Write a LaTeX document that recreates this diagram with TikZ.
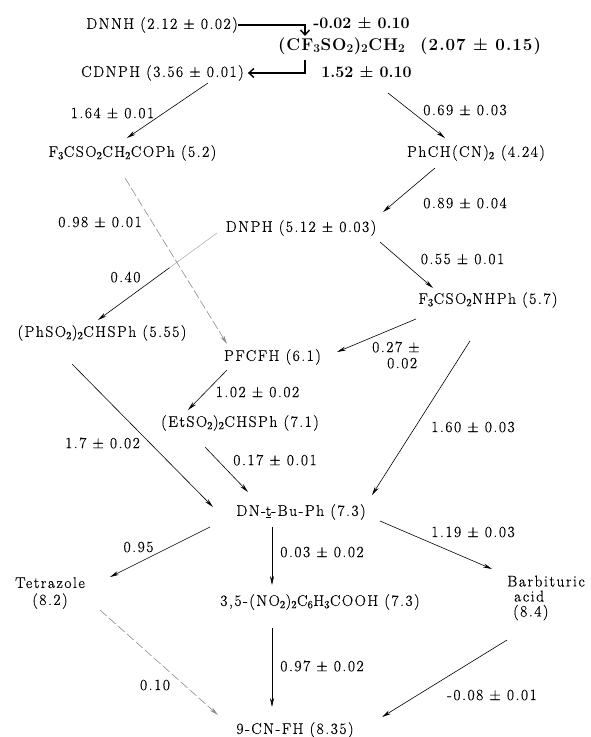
\documentclass[tikz,border=0pt]{standalone}
\usepackage{fontspec}
\setmainfont{Latin Modern Roman}
\newfontfamily\spaced{Latin Modern Roman}[LetterSpace=10, FakeBold=0.6]
\newfontfamily\bspaced{Latin Modern Roman}[LetterSpace=6]
\usetikzlibrary{arrows.meta,calc}
\begin{document}
\begin{tikzpicture}[x=1pt,y=-1pt,
  every node/.style={inner sep=0pt, font=\spaced\fontsize{15.5}{17}\selectfont},
  bld/.style={font=\normalfont\fontsize{16}{18}\selectfont\bfseries},
  bigbld/.style={font=\bspaced\fontsize{17}{19}\selectfont\bfseries},
  arr/.style={-{Stealth[length=9pt,width=4pt]}, line width=0.6pt},
  faint/.style={arr, draw=black!45, dash pattern=on 9pt off 3pt},
  heavy/.style={-{Straight Barb[length=5pt,width=9pt]}, line width=1.4pt}]
\useasboundingbox (0,0) rectangle (590,737);
% nodes
\node (DNNH) at (162,25) {DNNH (2.12 ± 0.02)};
\node[bld] (B1) at (361.5,23) {-0.02 ± 0.10};
\node[bigbld] (CF) at (409.5,46) {(CF\textsubscript{3}SO\textsubscript{2})\textsubscript{2}CH\textsubscript{2}\ \ (2.07 ± 0.15)};
\node (CD) at (162.5,73) {CDNPH (3.56 ± 0.01)};
\node[bld] (B2) at (366.5,72) {1.52 ± 0.10};
\node (L164) at (112.5,113) {1.64 ± 0.01};
\node (L069) at (465,110) {0.69 ± 0.03};
\node (F3C) at (132.5,153) {F\textsubscript{3}CSO\textsubscript{2}CH\textsubscript{2}COPh (5.2)};
\node (PhCH) at (476,153) {PhCH(CN)\textsubscript{2} (4.24)};
\node (L089) at (465,203) {0.89 ± 0.04};
\node (DNPH) at (301,228) {DNPH (5.12 ± 0.03)};
\node (L098) at (100,222) {0.98 ± 0.01};
\node (L040) at (125.5,277) {0.40};
\node (L055) at (462.5,259) {0.55 ± 0.01};
\node (PhSO) at (102,333) {(PhSO\textsubscript{2})\textsubscript{2}CHSPh (5.55)};
\node (F3N) at (488,300) {F\textsubscript{3}CSO\textsubscript{2}NHPh (5.7)};
\node (PFCFH) at (272.5,357) {PFCFH (6.1)};
\node[align=left, anchor=west, font=\spaced\fontsize{15.5}{16}\selectfont] (L027) at (372,355) {0.27 ±\\\hspace*{15pt}0.02};
\node (L160) at (473,427) {1.60 ± 0.03};
\node (L102) at (257.5,392) {1.02 ± 0.02};
\node (L17) at (102.5,443) {1.7 ± 0.02};
\node (Et) at (240,423) {(EtSO\textsubscript{2})\textsubscript{2}CHSPh (7.1)};
\node (L017) at (275,460) {0.17 ± 0.01};
\node (DN) at (301,512) {DN-\underline{t}-Bu-Ph (7.3)};
\node (L095) at (138.5,547) {0.95};
\node (L003) at (322,552) {0.03 ± 0.02};
\node (L119) at (473,532) {1.19 ± 0.03};
\node[align=center, font=\spaced\fontsize{15.5}{17}\selectfont] (Tet) at (50,593) {Tetrazole\\(8.2)};
\node (NO2) at (320,602) {3,5-(NO\textsubscript{2})\textsubscript{2}C\textsubscript{6}H\textsubscript{3}COOH (7.3)};
\node[align=left, anchor=west, font=\spaced\fontsize{15.5}{15}\selectfont] (Barb) at (507,598) {Barbituric\\\hspace*{7pt}acid\\\hspace*{6pt}(8.4)};
\node (L010) at (155,685) {0.10};
\node (L097) at (322,666) {0.97 ± 0.02};
\node (L008) at (492,695) {-0.08 ± 0.01};
\node (CN) at (295,730) {9-CN-FH (8.35)};
% connectors
\draw[heavy] (DNNH.east) -| ([shift={(-104.5,-10)}]CF.center);
\draw[heavy] ([shift={(-104.5,14)}]CF.center) |- ([xshift=4pt]CD.east);
\draw[arr] ([shift={(45.5,10)}]CD.center) -- ([shift={(-5.5,-15)}]F3C.center);
\draw[arr] ([shift={(-21.5,47)}]CF.center) -- ([shift={(-31,-15)}]PhCH.center);
\draw[arr] ([shift={(-41,15)}]PhCH.center) -- ([shift={(82,-16)}]DNPH.center);
\draw[faint] ([shift={(-7.5,25)}]F3C.center) -- ([shift={(-45.5,-13)}]PFCFH.center);
\coordinate (s7) at ([shift={(-84,5)}]DNPH.center);
\coordinate (e7) at ([shift={(-4,-13)}]PhSO.center);
\draw[draw=black!35, line width=0.5pt] (s7) -- ($(s7)!0.4!(e7)$);
\draw[arr] ($(s7)!0.4!(e7)$) -- (e7);
\draw[arr] ([shift={(79,14)}]DNPH.center) -- ([shift={(-55,-12)}]F3N.center);
\draw[arr] ([shift={(-72,19)}]F3N.center) -- ([shift={(64.5,-5)}]PFCFH.center);
\draw[arr] ([shift={(-18,41)}]F3N.center) -- ([shift={(71,-17)}]DN.center);
\draw[arr] ([shift={(-45.5,13)}]PFCFH.center) -- ([shift={(-52,-13)}]Et.center);
\draw[arr] ([shift={(-30,31)}]PhSO.center) -- ([shift={(-88,-5)}]DN.center);
\draw[arr] ([shift={(-35,24)}]Et.center) -- ([shift={(-53,-20)}]DN.center);
\draw[arr] ([shift={(-91,15)}]DN.center) -- ([shift={(60,-16)}]Tet.center);
\draw[arr] ([shift={(-29,15)}]DN.center) -- ([shift={(-48,-17)}]NO2.center);
\draw[arr] ([shift={(79,9)}]DN.center) -- ([shift={(-15,-29)}]Barb.west);
\draw[faint] ([shift={(50,17)}]Tet.center) -- ([shift={(-77,-15)}]CN.center);
\draw[arr] ([shift={(-48,26)}]NO2.center) -- ([shift={(-23,-23)}]CN.center);
\draw[arr] ([shift={(0,42)}]Barb.west) -- ([shift={(87,-13)}]CN.center);
\end{tikzpicture}
\end{document}
